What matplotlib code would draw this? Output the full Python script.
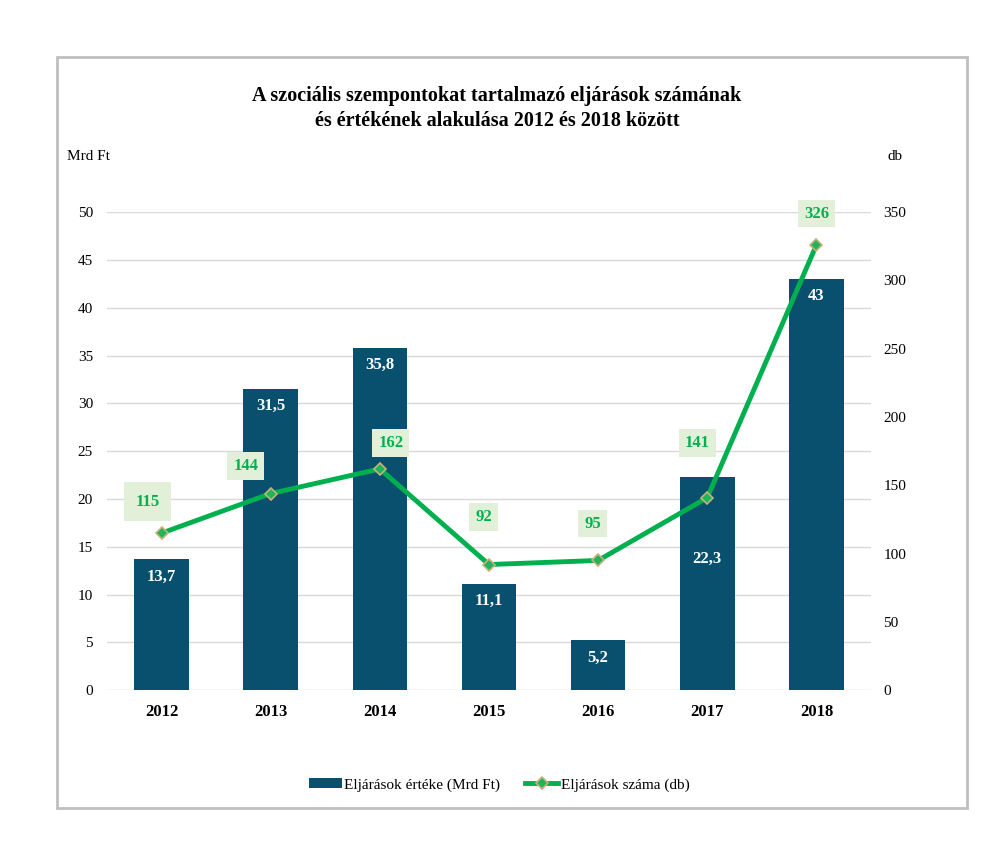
import numpy as np
import matplotlib.pyplot as plt
from matplotlib.patches import Rectangle

# Data
years = ['2012', '2013', '2014', '2015', '2016', '2017', '2018']
ertek = [13.7, 31.5, 35.8, 11.1, 5.2, 22.3, 43]
ertek_labels = ['13,7', '31,5', '35,8', '11,1', '5,2', '22,3', '43']
szam = [115, 144, 162, 92, 95, 141, 326]

bar_color = '#08506e'
line_color = '#00b04f'
box_color = '#e2f0d9'

plt.rcParams['font.family'] = ['Liberation Serif', 'DejaVu Serif']

fig = plt.figure(figsize=(10, 8.66), dpi=100)
ax = fig.add_axes([0.107, 0.203, 0.764, 0.552])
ax2 = ax.twinx()

x = np.arange(len(years))
bars = ax.bar(x, ertek, width=0.5, color=bar_color, zorder=2)
ax.set_ylim(0, 50)
ax.set_xlim(-0.5, len(years) - 0.5)
ax.set_yticks(np.arange(0, 51, 5))
ax.grid(axis='y', color='#d9d9d9', linewidth=1, zorder=0)
ax.set_axisbelow(True)
ax.set_xticks(x)
ax.set_xticklabels(years, fontsize=12, fontweight='bold')
ax.tick_params(axis='x', length=0, pad=10)
ax.tick_params(axis='y', length=0, labelsize=11, pad=10)

# bar labels: a bit below the top; 2017 moved down to keep clear of the line
label_drop = [1.8, 1.8, 1.8, 1.8, 1.8, 8.6, 1.8]
for b, lab, d in zip(bars, ertek_labels, label_drop):
    ax.text(b.get_x() + b.get_width() / 2, b.get_height() - d, lab,
            ha='center', va='center', color='white', fontsize=12,
            fontweight='bold', zorder=3)

ax2.set_ylim(0, 350)
ax2.set_yticks(np.arange(0, 351, 50))
ax2.tick_params(axis='y', length=0, labelsize=11, pad=9)
ax2.plot(x, szam, color=line_color, linewidth=3.5, marker='D', markersize=6,
         markerfacecolor='#1fb55a', markeredgecolor='#c8b07a',
         markeredgewidth=1.2, zorder=4)

offsets = [(-0.13, 23), (-0.23, 20), (0.1, 19), (-0.05, 35), (-0.05, 27), (-0.09, 40), (0, 23)]
for xi, v, (dx, dy) in zip(x, szam, offsets):
    pad = 0.7 if xi == 0 else 0.35
    ax2.text(xi + dx, v + dy, str(v), ha='center', va='center',
             color=line_color, fontsize=12, fontweight='bold', zorder=5,
             bbox=dict(boxstyle=f'square,pad={pad}', fc=box_color, ec='none'))

for a in (ax, ax2):
    for s in a.spines.values():
        s.set_visible(False)

ax.set_zorder(ax2.get_zorder() - 1)
ax2.patch.set_visible(False)

fig.text(0.067, 0.815, 'Mrd Ft', fontsize=11)
fig.text(0.887, 0.815, 'db', fontsize=11)

fig.text(0.497, 0.875, 'A szociális szempontokat tartalmazó eljárások számának\n'
         'és értékének alakulása 2012 és 2018 között',
         ha='center', va='center', fontsize=14.5, fontweight='bold',
         linespacing=1.3)

handles = [bars, ax2.lines[0]]
leg = fig.legend(handles, ['Eljárások értéke (Mrd Ft)', 'Eljárások száma (db)'],
                 loc='center', bbox_to_anchor=(0.499, 0.094), ncol=2,
                 frameon=False, fontsize=11, handlelength=2.2,
                 handletextpad=0.15, columnspacing=1.6)

fig.patches.append(Rectangle((0.057, 0.067), 0.910, 0.867, transform=fig.transFigure,
                             fill=False, edgecolor='#bfbfbf', linewidth=2))

fig.savefig('out.png', dpi=100)
